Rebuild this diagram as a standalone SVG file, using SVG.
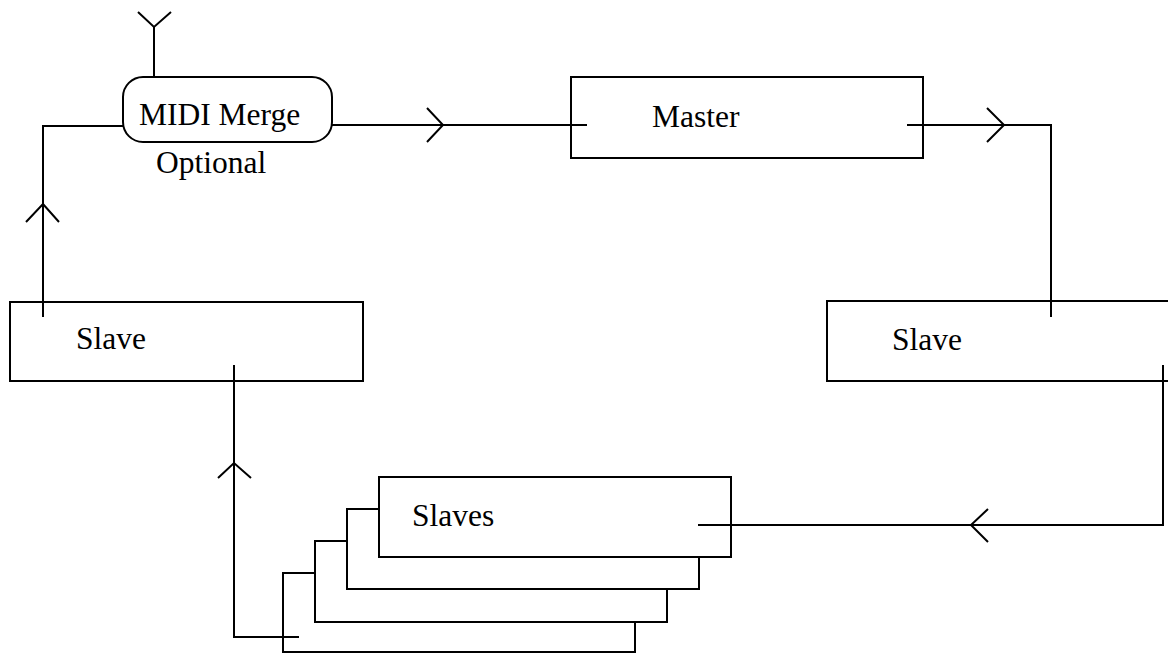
<svg xmlns="http://www.w3.org/2000/svg" width="1168" height="653" viewBox="0 0 1168 653">
<style>
.box{fill:#fff;stroke:#000;stroke-width:2}
.ln{fill:none;stroke:#000;stroke-width:2}
.t{font-family:"Liberation Serif","Times New Roman",serif;font-size:31.5px;fill:#000}
</style>
<rect width="1168" height="653" fill="#fff"/>
<g id="midi-merge">
<rect class="box" x="123" y="77" width="209" height="65" rx="20" ry="20"/>
<text class="t" x="139" y="125">MIDI Merge</text>
<text class="t" x="156" y="173">Optional</text>
</g>
<g id="master">
<rect class="box" x="571" y="77" width="352" height="81"/>
<text class="t" x="652" y="127">Master</text>
</g>
<g id="slave-left">
<rect class="box" x="10" y="302" width="353" height="79"/>
<text class="t" x="76" y="349">Slave</text>
</g>
<g id="slave-right">
<rect class="box" x="827" y="301" width="400" height="80"/>
<text class="t" x="892" y="350">Slave</text>
</g>
<g id="slaves">
<rect class="box" x="283" y="573" width="352" height="79"/>
<rect class="box" x="315" y="541" width="352" height="81"/>
<rect class="box" x="347" y="509" width="352" height="80"/>
<rect class="box" x="379" y="477" width="352" height="80"/>
<text class="t" x="412" y="526">Slaves</text>
</g>
<g id="connectors">
<polyline class="ln" points="154,77 154,27"/>
<polyline class="ln" points="138,12 154,27 171,12"/>
<polyline class="ln" points="123,126 43,126 43,317"/>
<polyline class="ln" points="26,222 43,204 59,222"/>
<polyline class="ln" points="332,125 587,125"/>
<polyline class="ln" points="427,108 443,125 427,142"/>
<polyline class="ln" points="907,125 1051,125 1051,317"/>
<polyline class="ln" points="987,108 1004,125 987,142"/>
<polyline class="ln" points="1163,365 1163,525 698,525"/>
<polyline class="ln" points="988,509 971,525 988,542"/>
<polyline class="ln" points="234,365 234,637 299,637"/>
<polyline class="ln" points="218,478 234,463 251,478"/>
</g>
</svg>
